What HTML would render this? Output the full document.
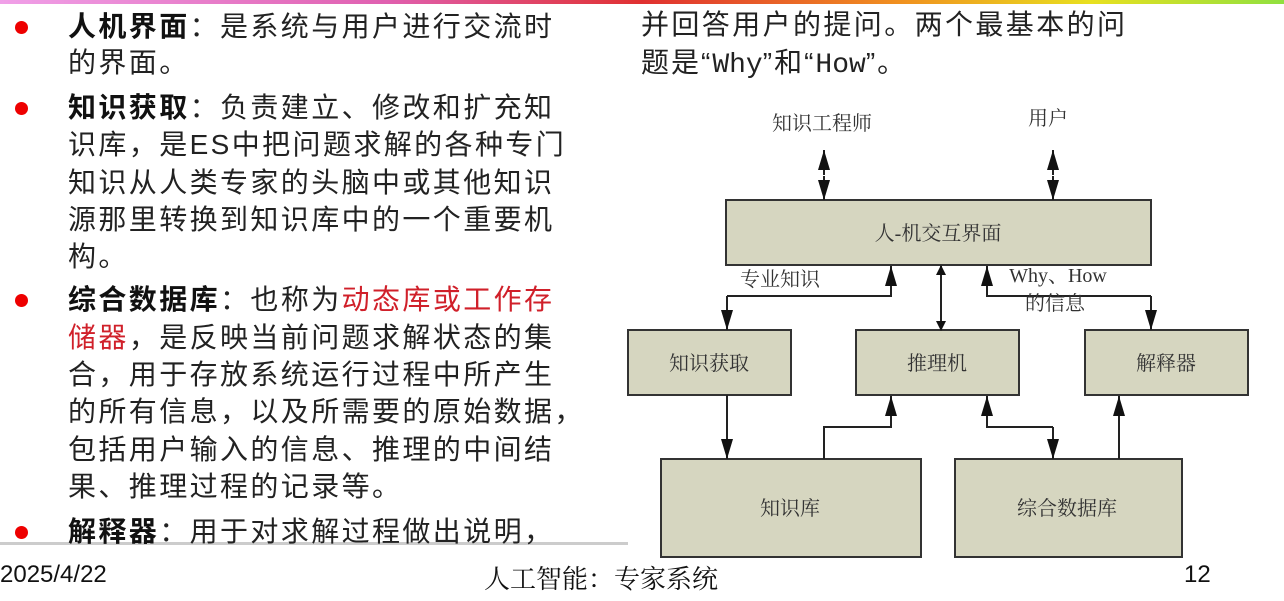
<!DOCTYPE html>
<html><head><meta charset="utf-8"><style>
body{margin:0;width:1284px;height:601px;background:#fff;position:relative;overflow:hidden;font-family:"Liberation Sans","Noto Sans CJK SC",sans-serif}
.l{position:absolute;left:68px;font-size:28px;line-height:36px;height:36px;color:#222;white-space:nowrap;letter-spacing:2.4px}
.b{font-weight:bold;color:#111}
.r{color:#d0202a}
.dot{position:absolute;left:15px;width:13px;height:13px;border-radius:50%;background:#e00}
.ser{font-family:"Liberation Serif","Noto Serif CJK SC",serif;fill:#333;font-size:20px}
</style></head><body>
<div style="position:absolute;left:0;top:0;width:1284px;height:4px;background:linear-gradient(90deg,#f0a0e8,#e060b0 30%,#e03030 50%,#f09020 70%,#e8e020 85%,#90e040)"></div>
<div style="position:absolute;left:0;top:542px;width:628px;height:3px;background:#ccc"></div>

<div class="dot" style="top:21px"></div>
<div class="l" style="top:9px"><span class="b">人机界面</span>：是系统与用户进行交流时</div>
<div class="l" style="top:45px">的界面。</div>
<div class="dot" style="top:102px"></div>
<div class="l" style="top:90px"><span class="b">知识获取</span>：负责建立、修改和扩充知</div>
<div class="l" style="top:127px">识库，是ES中把问题求解的各种专门</div>
<div class="l" style="top:165px">知识从人类专家的头脑中或其他知识</div>
<div class="l" style="top:202px">源那里转换到知识库中的一个重要机</div>
<div class="l" style="top:239px">构。</div>
<div class="dot" style="top:294px"></div>
<div class="l" style="top:282px"><span class="b">综合数据库</span>：也称为<span class="r">动态库或工作存</span></div>
<div class="l" style="top:320px"><span class="r">储器</span>，是反映当前问题求解状态的集</div>
<div class="l" style="top:357px">合，用于存放系统运行过程中所产生</div>
<div class="l" style="top:394px">的所有信息，以及所需要的原始数据，</div>
<div class="l" style="top:432px">包括用户输入的信息、推理的中间结</div>
<div class="l" style="top:469px">果、推理过程的记录等。</div>
<div class="dot" style="top:526px"></div>
<div class="l" style="top:514px"><span class="b">解释器</span>：用于对求解过程做出说明，</div>

<div class="l" style="left:641px;top:7px">并回答用户的提问。两个最基本的问</div>
<div class="l" style="left:641px;top:45px;letter-spacing:2px">题是“<span style="font-family:'Liberation Mono',monospace;letter-spacing:0">Why</span>”和“<span style="font-family:'Liberation Mono',monospace;letter-spacing:0">How</span>”。</div>

<div style="position:absolute;left:0;top:561px;font-size:24px;color:#111">2025/4/22</div>
<div style="position:absolute;left:484px;top:559px;font-size:26px;color:#111;font-family:'Liberation Serif','Noto Serif CJK SC',serif">人工智能：专家系统</div>
<div style="position:absolute;left:1184px;top:561px;font-size:24px;color:#111">12</div>

<svg width="1284" height="601" style="position:absolute;left:0;top:0">
<defs><marker id="a" markerWidth="10" markerHeight="10" refX="9" refY="5" orient="auto" markerUnits="userSpaceOnUse" viewBox="0 0 10 10"><path d="M0,0L10,5L0,10z" fill="#111"/></marker>
<marker id="a2" markerWidth="20" markerHeight="12" refX="20" refY="6" orient="auto" markerUnits="userSpaceOnUse"><path d="M0,0L20,6L0,12z" fill="#111"/></marker></defs>
<g fill="#d6d6c0" stroke="#333" stroke-width="2">
<rect x="726" y="200" width="425" height="65"/>
<rect x="628" y="330" width="163" height="65"/>
<rect x="856" y="330" width="163" height="65"/>
<rect x="1085" y="330" width="163" height="65"/>
<rect x="661" y="459" width="260" height="98"/>
<rect x="955" y="459" width="227" height="98"/>
</g>
<g stroke="#222" stroke-width="2" fill="none">
<line x1="824" y1="175" x2="824" y2="150" marker-end="url(#a2)"/>
<line x1="824" y1="176" x2="824" y2="200" marker-end="url(#a2)"/>
<line x1="1053" y1="175" x2="1053" y2="150" marker-end="url(#a2)"/>
<line x1="1053" y1="176" x2="1053" y2="200" marker-end="url(#a2)"/>
<polyline points="727,296 891,296 891,266" marker-end="url(#a2)"/>
<polyline points="727,296 727,330" marker-end="url(#a2)"/>
<line x1="941" y1="298" x2="941" y2="266" marker-end="url(#a)"/>
<line x1="941" y1="298" x2="941" y2="330" marker-end="url(#a)"/>
<polyline points="1151,296 987,296 987,266" marker-end="url(#a2)"/>
<polyline points="1151,296 1151,330" marker-end="url(#a2)"/>
<line x1="727" y1="395" x2="727" y2="459" marker-end="url(#a2)"/>
<polyline points="824,459 824,427 891,427 891,396" marker-end="url(#a2)"/>
<polyline points="1053,427 987,427 987,396" marker-end="url(#a2)"/>
<polyline points="1053,427 1053,459" marker-end="url(#a2)"/>
<line x1="1119" y1="459" x2="1119" y2="396" marker-end="url(#a2)"/>
</g>
<g class="ser" text-anchor="middle">
<text x="822" y="130">知识工程师</text>
<text x="1048" y="125">用户</text>
<text x="938" y="240">人-机交互界面</text>
<text x="780" y="286">专业知识</text>
<text x="1058" y="282">Why、How</text>
<text x="1055" y="310">的信息</text>
<text x="709" y="370">知识获取</text>
<text x="937" y="370">推理机</text>
<text x="1166" y="370">解释器</text>
<text x="790" y="515">知识库</text>
<text x="1067" y="515">综合数据库</text>
</g>
</svg>
</body></html>
